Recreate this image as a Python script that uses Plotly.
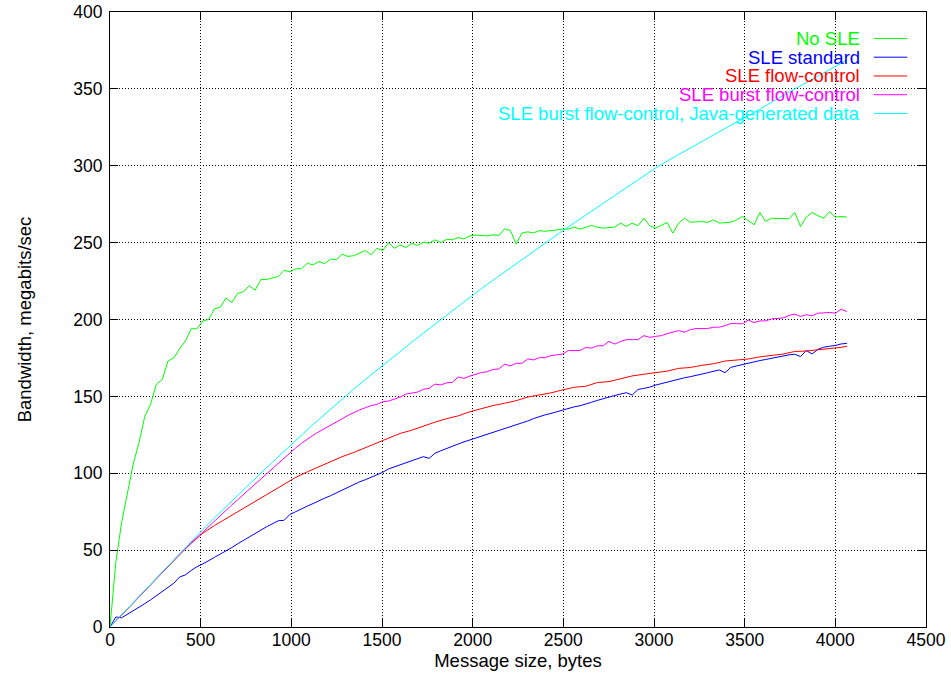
import plotly.graph_objects as go

# Message sizes (bytes)
sizes32 = list(range(0, 4065, 32))
sizes64 = list(range(0, 4033, 64)) + [4064]

no_sle = [0, 42, 68, 88, 106, 120, 137, 145, 158, 161,
          173, 175, 181, 186, 194, 194, 199, 200, 207, 208,
          214, 211, 217, 218, 222, 219, 226, 226, 227, 228,
          232, 231, 233, 233, 236.6, 235.5, 237.7, 236.3, 239.4, 238.8,
          242.5, 241, 241.5, 243, 244.9, 242, 246.3, 244.9, 250.1, 246.3,
          248.5, 246.8, 249.6, 248.1, 250.3, 249.6, 251.8, 250.1, 252.2, 251.8,
          253.3, 252.4, 254.4, 254.9, 254.6, 254.4, 255.1, 254.6, 259, 257.9,
          249, 256.3, 257, 256.3, 257.8, 257.4, 257.8, 258.5, 258.8, 258.8,
          260.1, 258.8, 260, 261.2, 260, 259.4, 259.8, 260.1, 262.7, 260.5,
          262.7, 261, 265.9, 261, 259.4, 261.5, 263.1, 256.2, 262.7, 265.9,
          263.3, 263.5, 263.7, 263.1, 264.8, 262.7, 263, 263.3, 264.8, 267,
          264.4, 261.6, 269.6, 263.7, 265.9, 265.8, 265.6, 265.5, 269.6, 260.5,
          266.6, 269.6, 267.5, 265.9, 270.2, 266.6, 267, 266.6]

sle_standard = [0, 6.5, 6, 8.2, 10.5, 12.8, 15.2, 17.7, 20.3, 22.8,
                25.5, 28.5, 32.5, 33.9, 36.8, 39.3, 41, 43.4, 45.3, 47.4,
                49.4, 51.7, 54.1, 56.2, 58.5, 60.8, 63, 65.2, 67.4, 69.1,
                69.4, 73.2, 75, 77, 78.6, 80.3, 82.2, 83.8, 85.4, 87.3,
                89, 90.7, 92.6, 94.4, 95.8, 97.4, 98.8, 100.6, 102.8, 104.2,
                105.5, 106.7, 108, 109.9, 110.8, 109.7, 113, 114.6, 116.2, 117.5,
                119, 120.4, 121.6, 123, 124.1, 125.1, 126.5, 127.6, 128.9, 130,
                131.6, 132.8, 134, 135.6, 136.9, 138, 138.9, 140, 141.2, 141.9,
                143.2, 143.9, 144.9, 146.2, 147.4, 148.6, 149.8, 150.6, 151.5, 152.4,
                150.9, 154.5, 155.2, 156, 157.3, 158.3, 159.2, 159.9, 160.9, 162.1,
                162.8, 163.5, 164.5, 165.4, 166.4, 167.2, 165.4, 168.9, 169.8, 170.8,
                171.6, 172.6, 173.3, 174, 174.7, 175.7, 176.5, 177, 177.4, 175.9,
                179.8, 177.6, 180.6, 182, 182.6, 183.1, 184.1, 184.5]

sle_flow = [0, 7.5, 15.5, 23.5, 31.5, 39.5, 47, 54.5, 61, 66,
            70.5, 75, 79.5, 84, 88.5, 93, 97.3, 100.9, 104.2, 107.8,
            110.8, 113.5, 116.7, 120, 123, 125.9, 128, 130.8, 133.2, 135.5,
            137.3, 140, 142.2, 144, 145.5, 147.2, 149.6, 150.8, 152.3, 154.2,
            155.9, 156.6, 159, 159.6, 161.5, 163.3, 164.4, 165.3, 166.4, 168.2,
            168.8, 170.2, 171.2, 173, 173.6, 174.3, 175.7, 176.6, 177.5, 179.2,
            179.5, 180.3, 181, 181.9, 182.6]

sle_burst = [0, 4, 8, 12, 16, 20, 24, 28, 32, 36,
             40, 43.8, 47.5, 51.2, 54.8, 58.4, 62, 65.5, 69, 72.5,
             76, 79.4, 82.8, 86.2, 89.6, 93, 96.3, 99.6, 102.9, 106.2,
             109.5, 113, 116.5, 119.5, 122.2, 124.7, 127, 129, 131, 133.2,
             135.4, 137.6, 139.5, 141.2, 142.6, 144, 144.8, 146.5, 147, 148.2,
             149.5, 151.5, 152, 152.8, 154.6, 155.2, 158, 157.4, 158.8, 159.1,
             162.6, 161.7, 163.2, 164.5, 165.5, 166, 167.5, 167.8, 170.9, 169.8,
             171.5, 171.5, 174.4, 173.7, 175.2, 175.2, 176.5, 177, 177.5, 179.8,
             179.8, 179.8, 181.8, 181.4, 182.9, 182.9, 185.8, 184, 185.8, 186.9,
             186.9, 186.9, 189.5, 188.4, 189, 189.5, 190.8, 192, 192.8, 191.7,
             193.4, 194.1, 194.1, 194.1, 195, 195, 196, 197.4, 197.3, 197.2,
             199.7, 198, 199.1, 199.1, 200.4, 200.6, 201, 202.6, 203.5, 202,
             203.1, 202.4, 204.1, 204.3, 204.6, 204.1, 206.7, 205.2]

sle_java = [0, 8, 16, 24, 32, 40, 48, 55.5, 63.4, 70.9,
            78.3, 85.6, 92.9, 100.1, 107.2, 114.4, 121.5, 128.3, 135, 141.7,
            148.3, 154.7, 161, 167.2, 173.3, 179.3, 185.2, 191.1, 197, 202.9,
            208.7, 214.6, 220.1, 225.5, 230.9, 236.4, 241.8, 247.1, 252.4, 257.7,
            262.8, 267.9, 273, 278.1, 283.2, 288.3, 293.4, 298.5, 303, 307.3,
            311.5, 315.8, 320, 324.3, 328.5, 332.5, 337, 341.3, 345.6, 349.9,
            354.2, 358.5, 362.6, 366.7, 368.6]

series = [
    ("No SLE", sizes32, no_sle, "#00ff00"),
    ("SLE standard", sizes32, sle_standard, "#0000ff"),
    ("SLE flow-control", sizes64, sle_flow, "#ff0000"),
    ("SLE burst flow-control", sizes32, sle_burst, "#ff00ff"),
    ("SLE burst flow-control, Java-generated data", sizes64, sle_java, "#00ffff"),
]

FONT = "Liberation Sans, Arial, Helvetica, sans-serif"
TICK_SIZE = 17.5
TEXT_SIZE = 18.5

fig = go.Figure()
for name, xs, ys, col in series:
    n = min(len(xs), len(ys))
    fig.add_trace(go.Scatter(x=xs[:n], y=ys[:n], mode="lines", name=name,
                             line=dict(color=col, width=1), showlegend=False))

# gnuplot-style key: right-aligned coloured text with sample line on the right
key_top = 0.957
key_step = 0.0305
for i, (name, xs, ys, col) in enumerate(series):
    yk = key_top - i * key_step
    fig.add_annotation(xref="paper", yref="paper", x=0.9216, y=yk, text=name,
                       showarrow=False, xanchor="right", yanchor="middle",
                       font=dict(family=FONT, size=TEXT_SIZE, color=col))
    fig.add_shape(type="line", xref="paper", yref="paper", x0=0.936, x1=0.977,
                  y0=yk, y1=yk, line=dict(color=col, width=1))

axis_common = dict(
    showline=True, linecolor="black", linewidth=1, mirror="ticks",
    ticks="inside", ticklen=8, tickcolor="black", tickwidth=1,
    showgrid=True, gridcolor="black", gridwidth=1, griddash="1px,2px",
    zeroline=False, automargin=False,
    tickfont=dict(family=FONT, size=TICK_SIZE, color="black"),
)

fig.update_xaxes(range=[0, 4500], dtick=500, tick0=0, ticklabelstandoff=-3,
                 title=dict(text="Message size, bytes", standoff=0,
                            font=dict(family=FONT, size=TEXT_SIZE, color="black")),
                 **axis_common)
fig.update_yaxes(range=[0, 400], dtick=50, tick0=0, ticklabelstandoff=3,
                 title=dict(text="Bandwidth, megabits/sec", standoff=36,
                            font=dict(family=FONT, size=TEXT_SIZE, color="black")),
                 **axis_common)

fig.update_layout(width=951, height=676,
                  margin=dict(l=110, r=25, t=12, b=49),
                  plot_bgcolor="white", paper_bgcolor="white",
                  font=dict(family=FONT, size=TICK_SIZE, color="black"))

fig.write_html("out.html")
